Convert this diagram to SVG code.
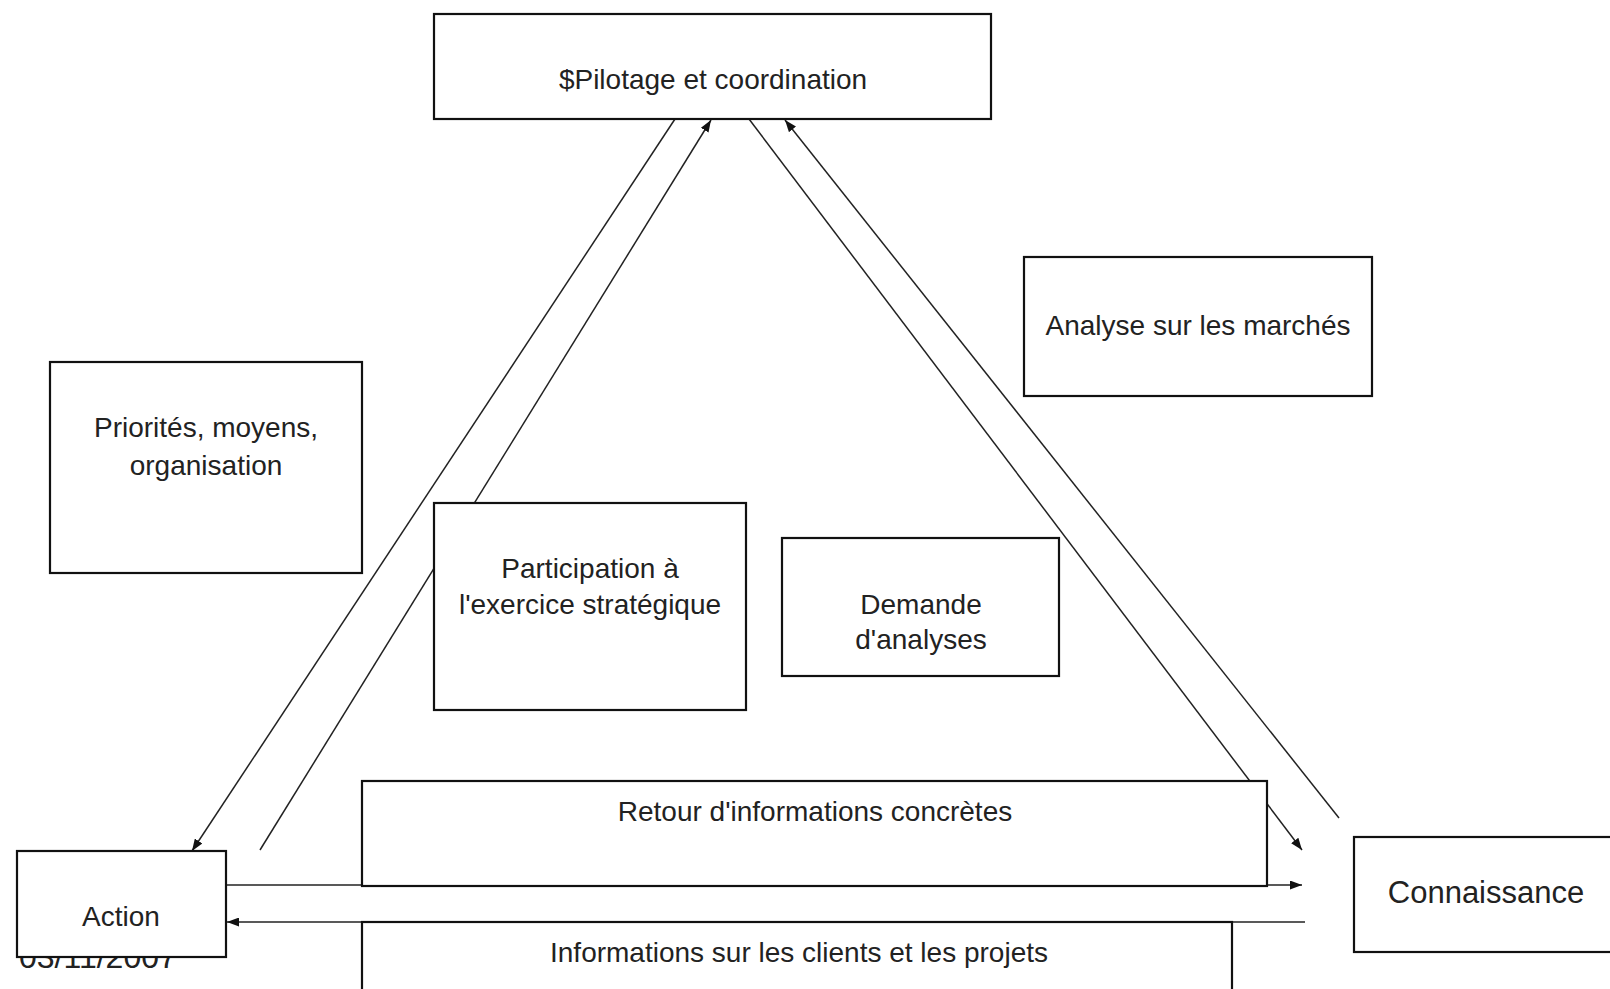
<svg xmlns="http://www.w3.org/2000/svg" width="1610" height="989" viewBox="0 0 1610 989">
<defs>
<style>
.box{fill:#fff;stroke:#111;stroke-width:2.2}
.t{font-family:"Liberation Sans",Arial,sans-serif;font-size:28px;fill:#222;text-anchor:middle}
.c{stroke:#222;stroke-width:1.5;fill:none;marker-end:url(#ah)}
</style>
<marker id="ah" viewBox="0 0 12 9" refX="12" refY="4.5" markerWidth="12" markerHeight="9" markerUnits="userSpaceOnUse" orient="auto">
<path d="M0,0 L12,4.5 L0,9 Z" fill="#111"/>
</marker>
</defs>
<rect width="1610" height="989" fill="#fff"/>
<text x="19" y="968" font-family="Liberation Sans,Arial,sans-serif" font-size="32" fill="#222">03/11/2007</text>
<g id="connectors">
<line class="c" x1="675" y1="119" x2="192" y2="851"/>
<line class="c" x1="260" y1="850" x2="711" y2="120"/>
<line class="c" x1="749" y1="119" x2="1302" y2="850"/>
<line class="c" x1="1339" y1="818" x2="785" y2="120"/>
<line class="c" x1="226" y1="885" x2="1302" y2="885"/>
<line class="c" x1="1305" y1="922" x2="227" y2="922"/>
</g>
<g id="pilotage">
<rect class="box" x="434" y="14" width="557" height="105"/>
<text class="t" x="713" y="89">$Pilotage et coordination</text>
</g>
<g id="analyse">
<rect class="box" x="1024" y="257" width="348" height="139"/>
<text class="t" x="1198" y="335">Analyse sur les marchés</text>
</g>
<g id="priorites">
<rect class="box" x="50" y="362" width="312" height="211"/>
<text class="t" x="206" y="437">Priorités, moyens,</text>
<text class="t" x="206" y="475">organisation</text>
</g>
<g id="participation">
<rect class="box" x="434" y="503" width="312" height="207"/>
<text class="t" x="590" y="578">Participation à</text>
<text class="t" x="590" y="614">l'exercice stratégique</text>
</g>
<g id="demande">
<rect class="box" x="782" y="538" width="277" height="138"/>
<text class="t" x="921" y="614">Demande</text>
<text class="t" x="921" y="649">d'analyses</text>
</g>
<g id="retour">
<rect class="box" x="362" y="781" width="905" height="105"/>
<text class="t" x="815" y="821">Retour d'informations concrètes</text>
</g>
<g id="informations">
<rect class="box" x="362" y="922" width="870" height="80"/>
<text class="t" x="799" y="962">Informations sur les clients et les projets</text>
</g>
<g id="action">
<rect class="box" x="17" y="851" width="209" height="106"/>
<text class="t" x="121" y="926">Action</text>
</g>
<g id="connaissance">
<rect class="box" x="1354" y="837" width="270" height="115"/>
<text class="t" x="1486" y="903" style="font-size:31px">Connaissance</text>
</g>
</svg>
